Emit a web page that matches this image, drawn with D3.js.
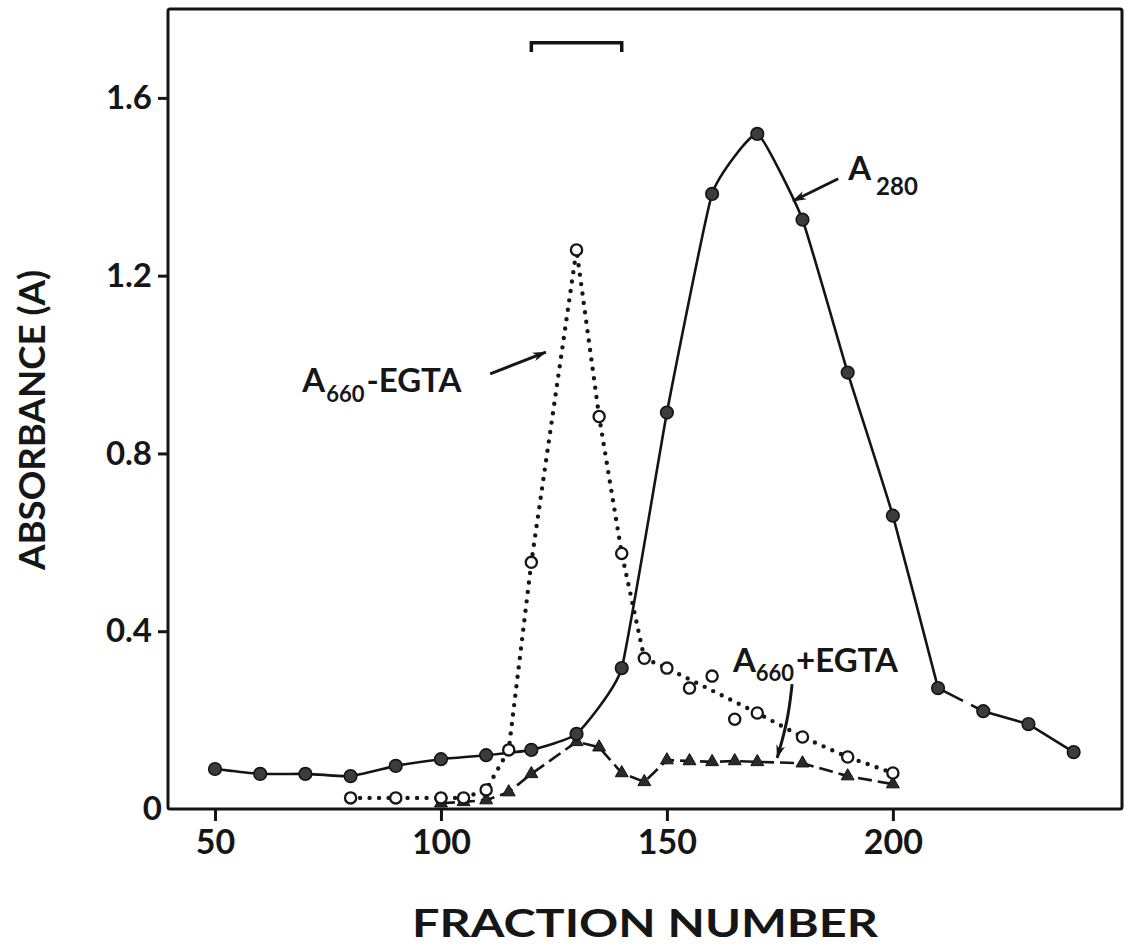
<!DOCTYPE html>
<html>
<head>
<meta charset="utf-8">
<script src="https://cdn.jsdelivr.net/npm/d3@7"></script>
<style>
  html, body { margin: 0; padding: 0; background: #fff; }
  svg { display: block; }
  text { font-family: Lato, "DejaVu Sans", sans-serif; font-weight: bold; fill: #161616; }
</style>
</head>
<body>
<svg id="chart" width="1125" height="950"></svg>
<script>
// Elution profile: absorbance of column fractions
const a280Fractions = [50, 60, 70, 80, 90, 100, 110, 120, 130, 140, 150, 160, 170, 180, 190, 200, 210, 220, 230, 240];
const a280Values    = [0.090, 0.079, 0.079, 0.074, 0.097, 0.112, 0.121, 0.133, 0.169, 0.317, 0.892, 1.384, 1.519, 1.326, 0.982, 0.660, 0.272, 0.220, 0.191, 0.128];

const minusEgtaFractions = [80, 90, 100, 105, 110, 115, 120, 130, 135, 140, 145, 150, 155, 160, 165, 170, 180, 190, 200];
const minusEgtaValues    = [0.025, 0.025, 0.025, 0.025, 0.043, 0.133, 0.555, 1.258, 0.883, 0.575, 0.339, 0.317, 0.272, 0.299, 0.202, 0.216, 0.162, 0.117, 0.081];
// scattered readings that the smoothed trace passes by
const minusEgtaOffTrace  = [155, 160, 165];

const plusEgtaFractions = [100, 105, 110, 115, 120, 130, 135, 140, 145, 150, 155, 160, 165, 170, 180, 190, 200];
const plusEgtaValues    = [0.013, 0.016, 0.020, 0.038, 0.079, 0.151, 0.139, 0.081, 0.061, 0.110, 0.108, 0.106, 0.108, 0.106, 0.103, 0.074, 0.056];

const xTicks = [50, 100, 150, 200];
const yTicks = [0, 0.4, 0.8, 1.2, 1.6];
const pooledRange = [120, 140];

const svg = d3.select("#chart");
const plotLeft = 168, plotRight = 1122, plotTop = 9, plotBottom = 809;

const x = d3.scaleLinear().domain([39.6, 250.7]).range([plotLeft, plotRight]);
const y = d3.scaleLinear().domain([0, 1.8]).range([plotBottom, plotTop]);

const zip = (xs, ys) => xs.map((f, i) => ({ f, v: ys[i] }));
const a280 = zip(a280Fractions, a280Values);
const minus = zip(minusEgtaFractions, minusEgtaValues);
const plus = zip(plusEgtaFractions, plusEgtaValues);

// arrowhead marker
const defs = svg.append("defs");
defs.append("marker")
  .attr("id", "head").attr("viewBox", "0 0 14 10")
  .attr("refX", 13).attr("refY", 5)
  .attr("markerWidth", 14).attr("markerHeight", 10)
  .attr("markerUnits", "userSpaceOnUse")
  .attr("orient", "auto")
  .append("path").attr("d", "M0,0.5 L14,5 L0,9.5 L4,5 Z").attr("fill", "#161616");

// frame
svg.append("rect")
  .attr("x", plotLeft).attr("y", plotTop)
  .attr("width", plotRight - plotLeft).attr("height", plotBottom - plotTop)
  .attr("rx", 2)
  .attr("fill", "none").attr("stroke", "#141414").attr("stroke-width", 3);

// x axis ticks + labels
const xAxis = d3.axisBottom(x).tickValues(xTicks).tickSize(12).tickPadding(6).tickFormat(d3.format("d"));
const gx = svg.append("g").attr("transform", `translate(0,${plotBottom})`).call(xAxis);
gx.select(".domain").remove();
gx.selectAll(".tick line").attr("stroke", "#141414").attr("stroke-width", 3);
gx.selectAll(".tick text").attr("font-size", 34).attr("font-family", "Lato, sans-serif").attr("font-weight", "bold").attr("fill", "#161616").attr("dy", "0.78em");

// y axis ticks + labels
const yAxis = d3.axisLeft(y).tickValues(yTicks).tickSize(10).tickPadding(4)
  .tickFormat(d => d === 0 ? "0" : d3.format(".1f")(d));
const gy = svg.append("g").attr("transform", `translate(${plotLeft},0)`).call(yAxis);
gy.select(".domain").remove();
gy.selectAll(".tick line").attr("stroke", "#141414").attr("stroke-width", 3)
  .attr("opacity", d => d === 0 ? 0 : 1);
gy.selectAll(".tick text").attr("font-size", 33).attr("font-family", "Lato, sans-serif").attr("font-weight", "bold").attr("fill", "#161616")
  .attr("x", d => d === 0 ? -6 : -16);

// axis titles
svg.append("text")
  .attr("transform", `translate(45,420) rotate(-90)`)
  .attr("text-anchor", "middle")
  .attr("font-size", 36)
  .attr("textLength", 300).attr("lengthAdjust", "spacingAndGlyphs")
  .text("ABSORBANCE (A)");

svg.append("text")
  .attr("x", 645).attr("y", 937)
  .attr("text-anchor", "middle")
  .attr("font-size", 38)
  .attr("textLength", 466).attr("lengthAdjust", "spacingAndGlyphs")
  .text("FRACTION NUMBER");

// pooled-fraction bracket
const by = y(1.724), bd = y(1.703);
svg.append("path")
  .attr("d", `M${x(pooledRange[0])},${bd} L${x(pooledRange[0])},${by} L${x(pooledRange[1])},${by} L${x(pooledRange[1])},${bd}`)
  .attr("fill", "none").attr("stroke", "#141414").attr("stroke-width", 3.5);

// A660 + EGTA : dashed trace, filled triangles
const lineLin = d3.line().x(d => x(d.f)).y(d => y(d.v));
svg.append("path").datum(plus)
  .attr("d", lineLin)
  .attr("fill", "none").attr("stroke", "#161616").attr("stroke-width", 2.6)
  .attr("stroke-dasharray", "14 6");

// A660 - EGTA : dotted trace
svg.append("path").datum(minus.filter(d => !minusEgtaOffTrace.includes(d.f)))
  .attr("d", d3.line().x(d => x(d.f)).y(d => y(d.v)).curve(d3.curveLinear))
  .attr("fill", "none").attr("stroke", "#161616").attr("stroke-width", 4.4)
  .attr("stroke-linecap", "round").attr("stroke-dasharray", "0 9.5");

// A280 : solid trace, broken between 210 and 220
const iBreak = a280Fractions.indexOf(210);
svg.append("path").datum(a280.slice(0, iBreak + 1))
  .attr("d", d3.line().x(d => x(d.f)).y(d => y(d.v)).curve(d3.curveCardinal.tension(0.6)))
  .attr("fill", "none").attr("stroke", "#141414").attr("stroke-width", 2.6);
svg.append("path").datum(a280.slice(iBreak, iBreak + 2))
  .attr("d", lineLin)
  .attr("fill", "none").attr("stroke", "#141414").attr("stroke-width", 2.6)
  .attr("stroke-dasharray", "28 9 100");
svg.append("path").datum(a280.slice(iBreak + 1))
  .attr("d", lineLin)
  .attr("fill", "none").attr("stroke", "#141414").attr("stroke-width", 2.6);

// markers
const tri = d3.symbol().type(d3.symbolTriangle).size(72);
svg.append("g").selectAll("path").data(plus).join("path")
  .attr("d", tri)
  .attr("transform", d => `translate(${x(d.f)},${y(d.v)})`)
  .attr("fill", "#2a2a2a").attr("stroke", "#111").attr("stroke-width", 1);

svg.append("g").selectAll("circle").data(minus).join("circle")
  .attr("cx", d => x(d.f)).attr("cy", d => y(d.v)).attr("r", 5.6)
  .attr("fill", "#fff").attr("stroke", "#161616").attr("stroke-width", 2.3);

svg.append("g").selectAll("circle").data(a280).join("circle")
  .attr("cx", d => x(d.f)).attr("cy", d => y(d.v)).attr("r", 6.3)
  .attr("fill", "#3c3c3c").attr("stroke", "#141414").attr("stroke-width", 1.6);

// annotations
function subLabel(px, py, main, sub, tail, mainSize, subSize, subDy, subDx) {
  const t = svg.append("text").attr("x", px).attr("y", py).attr("font-size", mainSize);
  t.append("tspan").text(main);
  t.append("tspan").attr("font-size", subSize).attr("dy", subDy).attr("dx", subDx).text(sub);
  if (tail) t.append("tspan").attr("dy", -subDy).attr("dx", 2).text(tail);
  return t;
}

subLabel(x(69.3), y(0.938), "A", "660", "-EGTA", 33, 22, 10, 1);
svg.append("line")
  .attr("x1", x(110.9)).attr("y1", y(0.979)).attr("x2", x(123.2)).attr("y2", y(1.028))
  .attr("stroke", "#161616").attr("stroke-width", 3).attr("marker-end", "url(#head)");

subLabel(x(190.1), y(1.415), "A", "280", null, 33, 24, 15, 5);
svg.append("line")
  .attr("x1", x(187.9)).attr("y1", y(1.418)).attr("x2", x(177.9)).attr("y2", y(1.368))
  .attr("stroke", "#161616").attr("stroke-width", 3).attr("marker-end", "url(#head)");

subLabel(x(164.6), y(0.308), "A", "660", "+EGTA", 33, 22, 9, 0);
svg.append("path")
  .attr("d", d3.line().curve(d3.curveBasis)([
    [x(177.7), y(0.281)], [x(176.8), y(0.200)], [x(174.4), y(0.115)]
  ]))
  .attr("fill", "none").attr("stroke", "#161616").attr("stroke-width", 3).attr("marker-end", "url(#head)");
</script>
</body>
</html>
